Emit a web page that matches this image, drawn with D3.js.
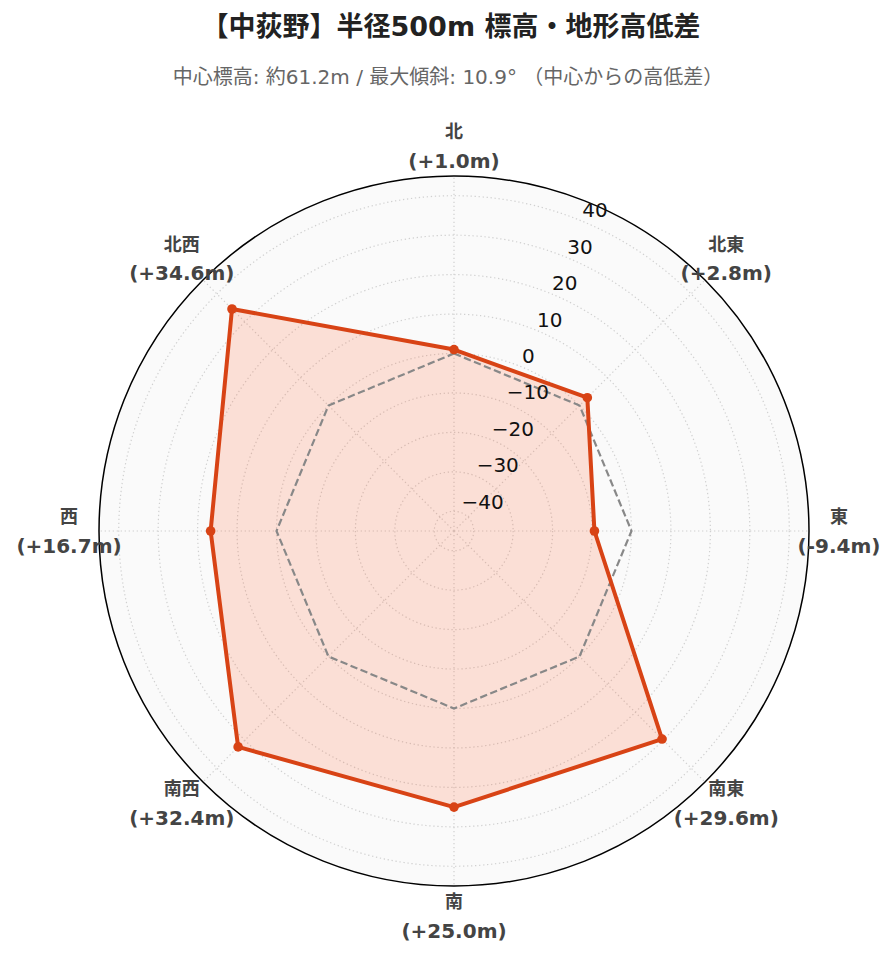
<!DOCTYPE html>
<html>
<head>
<meta charset="utf-8">
<script src="https://cdn.jsdelivr.net/npm/d3@7"></script>
<style>
  html, body { margin: 0; padding: 0; background: #ffffff; }
  svg { display: block; }
  text { font-family: "DejaVu Sans", "Noto Sans CJK JP", sans-serif; }
</style>
</head>
<body>
<svg id="chart" width="896" height="962"></svg>
<script>
// ---- data ----
const titleText = "【中荻野】半径500m 標高・地形高低差";
const subtitleText = "中心標高: 約61.2m / 最大傾斜: 10.9° （中心からの高低差）";
const directions = ["北", "北東", "東", "南東", "南", "南西", "西", "北西"];
const diffs = [1.0, 2.8, -9.4, 29.6, 25.0, 32.4, 16.7, 34.6];
const referenceValues = [0, 0, 0, 0, 0, 0, 0, 0];
const radialTicks = [-40, -30, -20, -10, 0, 10, 20, 30, 40];
const radialDomain = [-45, 45];

// ---- layout ----
const W = 896, H = 962;
const cx = 454, cy = 531, R = 355;
const svg = d3.select("#chart");

const r = d3.scaleLinear().domain(radialDomain).range([0, R]);
const angle = d3.scalePoint().domain(d3.range(directions.length)).range([0, 2 * Math.PI * (directions.length - 1) / directions.length]);

const g = svg.append("g").attr("transform", `translate(${cx},${cy})`);

// background
g.append("circle").attr("r", R).attr("fill", "#fafafa");

// radial grid circles
g.selectAll(".rgrid").data(radialTicks).enter().append("circle")
  .attr("r", d => r(d)).attr("fill", "none")
  .attr("stroke", "#d0d0d0").attr("stroke-width", 1.2)
  .attr("stroke-dasharray", "1.3,2.7");

// angular grid lines
g.selectAll(".agrid").data(d3.range(directions.length)).enter().append("line")
  .attr("x1", 0).attr("y1", 0)
  .attr("x2", i => R * Math.sin(angle(i)))
  .attr("y2", i => -R * Math.cos(angle(i)))
  .attr("stroke", "#d0d0d0").attr("stroke-width", 1.2)
  .attr("stroke-dasharray", "1.3,2.7");

const radial = d3.lineRadial()
  .angle((d, i) => angle(i))
  .radius(d => r(d))
  .curve(d3.curveLinearClosed);

// data fill
g.append("path").datum(diffs).attr("d", radial)
  .attr("fill", "#ff5722").attr("fill-opacity", 0.17).attr("stroke", "none");

// zero reference
g.append("path").datum(referenceValues).attr("d", radial)
  .attr("fill", "none").attr("stroke", "#888888").attr("stroke-width", 2.2)
  .attr("stroke-dasharray", "7.4,3.4");

// data line
g.append("path").datum(diffs).attr("d", radial)
  .attr("fill", "none").attr("stroke", "#d84315").attr("stroke-width", 4)
  .attr("stroke-linejoin", "round");

// markers
g.selectAll(".pt").data(diffs).enter().append("circle")
  .attr("cx", (d, i) => r(d) * Math.sin(angle(i)))
  .attr("cy", (d, i) => -r(d) * Math.cos(angle(i)))
  .attr("r", 4.8).attr("fill", "#d84315");

// outer circle
g.append("circle").attr("r", R).attr("fill", "none").attr("stroke", "#000").attr("stroke-width", 1.5);

// radial tick labels along 22.5°
const la = Math.PI / 8;
g.selectAll(".rlab").data(radialTicks).enter().append("text")
  .attr("x", d => r(d) * Math.sin(la))
  .attr("y", d => -r(d) * Math.cos(la) - 4)
  .attr("text-anchor", "start")
  .attr("font-size", 20).attr("fill", "#111")
  .text(d => d < 0 ? "\u2212" + Math.abs(d) : String(d));

// angular labels
const fmt = v => "(" + (v >= 0 ? "+" : "-") + Math.abs(v).toFixed(1) + "m)";
const LR = 385;
const lab = g.selectAll(".alab").data(directions).enter().append("g")
  .attr("transform", (d, i) => `translate(${LR * Math.sin(angle(i))},${-LR * Math.cos(angle(i))})`);
lab.append("text").attr("y", -14.5).attr("dy", "0.35em")
  .attr("text-anchor", "middle").attr("font-size", 18).attr("font-weight", "bold").attr("fill", "#444")
  .text(d => d);
lab.append("text").attr("y", 14.5).attr("dy", "0.35em")
  .attr("text-anchor", "middle").attr("font-size", 20).attr("font-weight", "bold").attr("fill", "#444")
  .text((d, i) => fmt(diffs[i]));

// titles
svg.append("text").attr("x", 451).attr("y", 27).attr("dy", "0.35em")
  .attr("text-anchor", "middle").attr("font-size", 27).attr("font-weight", "bold").attr("fill", "#222")
  .text(titleText);
svg.append("text").attr("x", 448).attr("y", 77).attr("dy", "0.35em")
  .attr("text-anchor", "middle").attr("font-size", 20).attr("fill", "#666")
  .text(subtitleText);
</script>
</body>
</html>
